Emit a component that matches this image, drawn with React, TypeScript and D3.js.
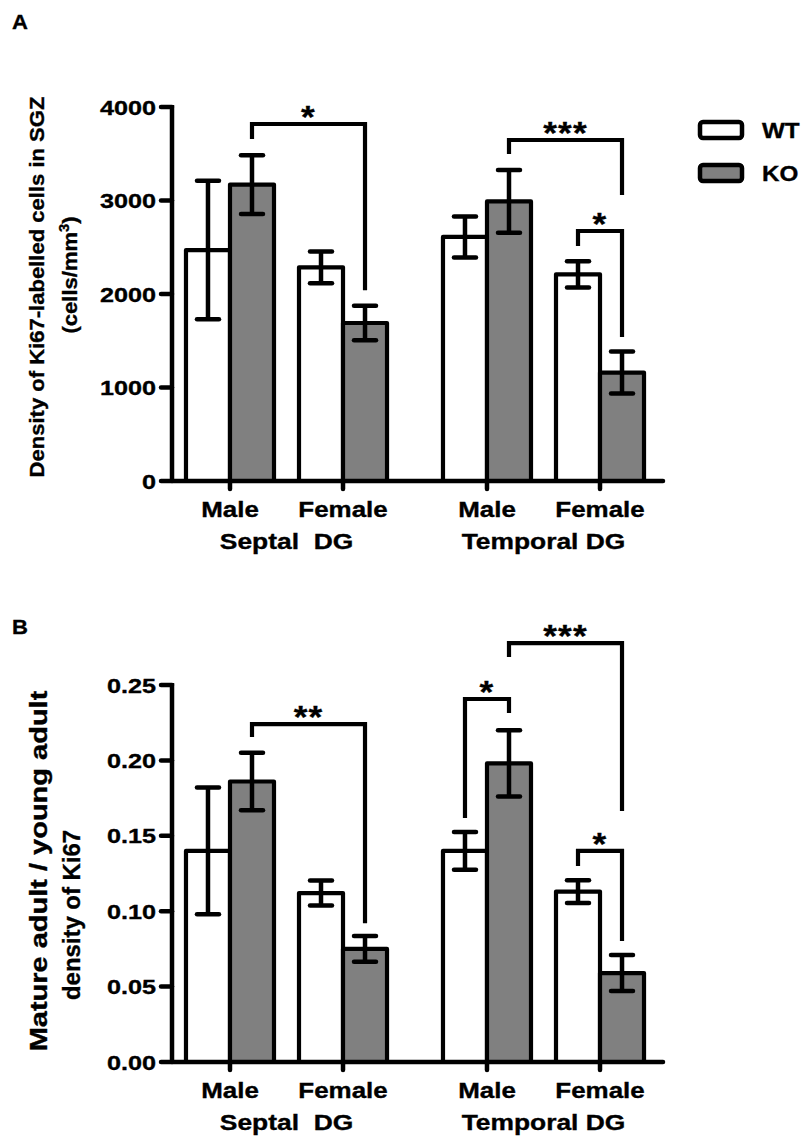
import React from "react";
import * as d3 from "d3";

// ---------- data ----------
const regions = ["Septal  DG", "Temporal DG"];
const sexes = ["Male", "Female"];
const genotypes = ["WT", "KO"];

// order: Septal Male, Septal Female, Temporal Male, Temporal Female
const densityWT = [2470, 2285, 2610, 2210];
const densityWTErr = [740, 170, 220, 140];
const densityKO = [3170, 1690, 2990, 1160];
const densityKOErr = [315, 185, 335, 225];
const densityTicks = [0, 1000, 2000, 3000, 4000];

const ratioWT = [0.14, 0.112, 0.14, 0.113];
const ratioWTErr = [0.042, 0.0083, 0.0125, 0.0075];
const ratioKO = [0.186, 0.075, 0.198, 0.059];
const ratioKOErr = [0.019, 0.0085, 0.022, 0.012];
const ratioTicks = [0, 0.05, 0.1, 0.15, 0.2, 0.25];

// significance brackets: [fromCat, fromGeno, toCat, toGeno, top, leftEnd, rightEnd, label]
const densityBrackets: [number, string, number, string, number, number, number, string][] = [
  [0, "KO", 1, "KO", 3818, 3658, 2040, "*"],
  [2, "KO", 3, "KO", 3647, 3497, 3059, "***"],
  [3, "WT", 3, "KO", 2674, 2513, 1540, "*"],
];
const ratioBrackets: [number, string, number, string, number, number, number, string][] = [
  [0, "KO", 1, "KO", 0.2241, 0.2155, 0.092, "**"],
  [2, "WT", 2, "KO", 0.2407, 0.1618, 0.2314, "*"],
  [2, "KO", 3, "KO", 0.2778, 0.2686, 0.1664, "***"],
  [3, "WT", 3, "KO", 0.14, 0.13, 0.0802, "*"],
];

// ---------- layout ----------
const FONT = "'Liberation Sans', Arial, Helvetica, sans-serif";
const W = 807;
const H = 1138;

const xRegion = d3.scaleBand<string>().domain(regions).range([158, 672]).padding(0);
const xSex = d3
  .scaleBand<string>()
  .domain(sexes)
  .range([0, xRegion.bandwidth()])
  .paddingInner(0)
  .paddingOuter(0.137);
const xGeno = d3
  .scaleBand<string>()
  .domain(genotypes)
  .range([0, xSex.bandwidth()])
  .paddingInner(0)
  .paddingOuter(0.284);

const catRegion = (i: number) => regions[Math.floor(i / 2)];
const catSex = (i: number) => sexes[i % 2];
const catCenter = (i: number) =>
  (xRegion(catRegion(i)) as number) + (xSex(catSex(i)) as number) + xSex.bandwidth() / 2;
const barLeft = (i: number, g: string) =>
  (xRegion(catRegion(i)) as number) + (xSex(catSex(i)) as number) + (xGeno(g) as number);
const barCenter = (i: number, g: string) => barLeft(i, g) + xGeno.bandwidth() / 2;

const AXIS_X = 172;
const AXIS_END = 663;

function T(props: {
  x: number;
  y: number;
  children: React.ReactNode;
  anchor?: string;
  size?: number;
  sx?: number;
  rotate?: number;
  ls?: number;
}) {
  const { x, y, children, anchor = "start", size = 21, sx = 1.2, rotate = 0, ls = 0 } = props;
  return (
    <text
      transform={`translate(${x},${y}) rotate(${rotate}) scale(${sx},1)`}
      textAnchor={anchor as any}
      fontSize={size}
      fontWeight="bold"
      fontFamily={FONT}
      letterSpacing={ls}
      fill="#000"
      stroke="#000"
      strokeWidth={0.35}
      style={{ whiteSpace: "pre" }}
    >
      {children}
    </text>
  );
}

function Panel(props: {
  y: d3.ScaleLinear<number, number>;
  ticks: number[];
  fmt: (v: number) => string;
  wt: number[];
  wtErr: number[];
  ko: number[];
  koErr: number[];
  brackets: [number, string, number, string, number, number, number, string][];
}) {
  const { y, ticks, fmt, wt, wtErr, ko, koErr, brackets } = props;
  const y0 = y(0);
  const yTop = y(ticks[ticks.length - 1]);
  const bw = xGeno.bandwidth();
  const cap = 11;
  const series = [
    { g: "WT", v: wt, e: wtErr, fill: "#ffffff" },
    { g: "KO", v: ko, e: koErr, fill: "#808080" },
  ];
  return (
    <g>
      {/* bars */}
      {series.map((s) =>
        s.v.map((v, i) => (
          <rect
            key={s.g + i}
            x={barLeft(i, s.g)}
            y={y(v)}
            width={bw}
            height={y0 - y(v)}
            fill={s.fill}
            stroke="#000"
            strokeWidth={4.2}
            strokeLinejoin="round"
          />
        ))
      )}
      {/* error bars */}
      {series.map((s) =>
        s.v.map((v, i) => {
          const cx = barCenter(i, s.g);
          const hi = y(v + s.e[i]);
          const lo = y(v - s.e[i]);
          return (
            <g key={"e" + s.g + i} stroke="#000" strokeWidth={4.5} strokeLinecap="round">
              <line x1={cx} x2={cx} y1={hi} y2={lo} strokeLinecap="butt" />
              <line x1={cx - cap} x2={cx + cap} y1={hi} y2={hi} />
              <line x1={cx - cap} x2={cx + cap} y1={lo} y2={lo} />
            </g>
          );
        })
      )}
      {/* brackets */}
      {brackets.map((b, k) => {
        const xl = barCenter(b[0], b[1]);
        const xr = barCenter(b[2], b[3]);
        const yt = y(b[4]);
        return (
          <g key={"b" + k}>
            <path
              d={`M${xl},${y(b[5])}V${yt}H${xr}V${y(b[6])}`}
              fill="none"
              stroke="#000"
              strokeWidth={4.2}
              strokeLinejoin="miter"
            />
            <T x={(xl + xr) / 2} y={yt + 4} anchor="middle" size={32} sx={1.1} ls={1}>
              {b[7]}
            </T>
          </g>
        );
      })}
      {/* y axis */}
      <line x1={AXIS_X} x2={AXIS_X} y1={y0} y2={yTop - 2} stroke="#000" strokeWidth={4.5} />
      {ticks.map((t) => (
        <g key={"t" + t}>
          <line x1={AXIS_X - 11} x2={AXIS_X} y1={y(t)} y2={y(t)} stroke="#000" strokeWidth={4.5} strokeLinecap="round" />
          <T x={156} y={y(t) + 7.5} anchor="end" size={21} sx={1.2}>
            {fmt(t)}
          </T>
        </g>
      ))}
      {/* x axis */}
      <line x1={AXIS_X} x2={AXIS_END} y1={y0} y2={y0} stroke="#000" strokeWidth={4.5} strokeLinecap="round" />
      {[0, 1, 2, 3].map((i) => (
        <g key={"xc" + i}>
          <line x1={catCenter(i)} x2={catCenter(i)} y1={y0} y2={y0 + 8} stroke="#000" strokeWidth={4.5} strokeLinecap="round" />
          <T x={catCenter(i)} y={y0 + 36} anchor="middle" size={22} sx={1.18}>
            {catSex(i)}
          </T>
        </g>
      ))}
      {regions.map((r) => (
        <T key={r} x={(xRegion(r) as number) + xRegion.bandwidth() / 2} y={y0 + 68} anchor="middle" size={22} sx={1.2}>
          {r}
        </T>
      ))}
    </g>
  );
}

export default function App() {
  const yA = d3.scaleLinear().domain([0, 4000]).range([481, 107]);
  const yB = d3.scaleLinear().domain([0, 0.25]).range([1062, 685]);
  const fA = d3.format("d");
  const fB = d3.format(".2f");
  return (
    <svg width={W} height={H} viewBox={`0 0 ${W} ${H}`} style={{ position: "absolute", left: 0, top: 0, background: "#fff" }}>
      <rect x={0} y={0} width={W} height={H} fill="#fff" />
      <T x={12} y={29} size={21} sx={1.05}>A</T>
      <T x={12} y={634} size={21} sx={1.05}>B</T>

      {/* Panel A y title */}
      <T x={44} y={287} anchor="middle" size={21} sx={1.05} rotate={-90}>
        Density of Ki67-labelled cells in SGZ
      </T>
      <T x={77} y={275} anchor="middle" size={21} sx={1.05} rotate={-90}>
        (cells/mm<tspan dy={-8} fontSize={14}>3</tspan><tspan dy={8}>)</tspan>
      </T>

      {/* Panel B y title */}
      <T x={47} y={871} anchor="middle" size={23} sx={1.26} rotate={-90}>
        Mature adult / young adult
      </T>
      <T x={80} y={915} anchor="middle" size={23} sx={1.04} rotate={-90}>
        density of Ki67
      </T>

      {/* legend */}
      <rect x={700} y={122} width={42} height={16} rx={3} fill="#fff" stroke="#000" strokeWidth={4.5} />
      <rect x={700} y={165} width={42} height={16} rx={3} fill="#808080" stroke="#000" strokeWidth={4.5} />
      <T x={762} y={138} size={22} sx={1.1}>WT</T>
      <T x={762} y={181} size={22} sx={1.1}>KO</T>

      <Panel y={yA} ticks={densityTicks} fmt={fA} wt={densityWT} wtErr={densityWTErr} ko={densityKO} koErr={densityKOErr} brackets={densityBrackets} />
      <Panel y={yB} ticks={ratioTicks} fmt={fB} wt={ratioWT} wtErr={ratioWTErr} ko={ratioKO} koErr={ratioKOErr} brackets={ratioBrackets} />
    </svg>
  );
}
